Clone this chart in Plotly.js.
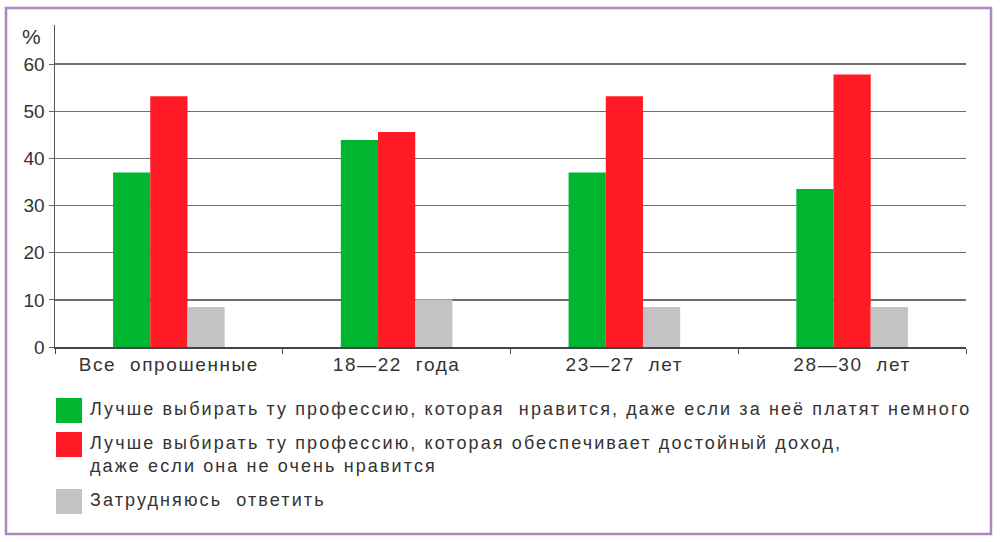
<!DOCTYPE html>
<html>
<head>
<meta charset="utf-8">
<script src="https://cdn.plot.ly/plotly-3.0.1.min.js"></script>
<style>
  html, body { margin: 0; padding: 0; background: #fff; }
  #chart { width: 1000px; height: 542px; }
  /* the source print has airy letter spacing */
  #chart .xtick text { letter-spacing: 1.6px; }
  #chart .annotation-text { letter-spacing: 2.1px; }
</style>
</head>
<body>
<div id="chart"></div>
<script>
var categories = ['Все  опрошенные', '18—22  года', '23—27  лет', '28—30  лет'];

var seriesNames = [
  'Лучше выбирать ту профессию, которая  нравится, даже если за неё платят немного',
  'Лучше выбирать ту профессию, которая обеспечивает достойный доход,<br>даже если она не очень нравится',
  'Затрудняюсь  ответить'
];
var seriesColors = ['#00b530', '#ff1a26', '#c3c3c3'];

var likeValues = [37, 43.9, 37, 33.5];
var incomeValues = [53.2, 45.6, 53.2, 57.8];
var unsureValues = [8.5, 10.1, 8.5, 8.5];

var yTicks = [0, 10, 20, 30, 40, 50, 60];

var allValues = [likeValues, incomeValues, unsureValues];

var data = allValues.map(function (vals, i) {
  return {
    type: 'bar',
    x: categories,
    y: vals,
    name: seriesNames[i],
    marker: { color: seriesColors[i], line: { width: 0 } },
    hoverinfo: 'x+y'
  };
});

// plot area in px: x 55..966, y 25..347 -> helpers to go to paper units
function px(x) { return (x - 55) / 911; }
function py(y) { return (347 - y) / 322; }

// legend drawn by hand: big swatches with text on the right
var legendRows = [398, 432, 489];   // swatch tops, px
var shapes = [];
var annotations = [];
seriesNames.forEach(function (name, i) {
  var top = legendRows[i];
  shapes.push({
    type: 'rect', xref: 'paper', yref: 'paper',
    x0: px(56), x1: px(82), y0: py(top + 25), y1: py(top),
    line: { width: 0 }, fillcolor: seriesColors[i]
  });
  annotations.push({
    xref: 'paper', yref: 'paper',
    x: px(88), y: py(top - 1),
    xanchor: 'left', yanchor: 'top',
    align: 'left', showarrow: false,
    text: name,
    font: { family: '"Liberation Sans", Arial, sans-serif', size: 18, color: '#333' }
  });
});

// '%' label over the axis
annotations.push({
  xref: 'paper', yref: 'paper', x: px(44), y: py(36),
  xanchor: 'right', yanchor: 'middle', showarrow: false,
  text: '%', font: { family: '"Liberation Sans", Arial, sans-serif', size: 21, color: '#333' }
});

// purple frame around everything
shapes.push({
  type: 'rect', xref: 'paper', yref: 'paper',
  x0: px(6), x1: px(991), y0: py(534), y1: py(8),
  line: { color: '#ad86c4', width: 2.5 }, fillcolor: 'rgba(0,0,0,0)'
});

var layout = {
  width: 1000,
  height: 542,
  margin: { l: 55, r: 34, t: 25, b: 195 },
  paper_bgcolor: '#fff',
  plot_bgcolor: '#fff',
  barmode: 'group',
  bargap: 0.51,
  bargroupgap: 0,
  showlegend: false,
  font: { family: '"Liberation Sans", Arial, sans-serif', size: 19, color: '#333' },
  xaxis: {
    type: 'category',
    tickson: 'boundaries',
    ticks: 'outside',
    ticklen: 5,
    tickcolor: '#444',
    showline: true,
    linecolor: '#444',
    linewidth: 1.5,
    showgrid: false,
    tickfont: { size: 19, color: '#333' }
  },
  yaxis: {
    range: [0, 68.3],
    tickvals: yTicks,
    ticks: 'outside',
    ticklen: 5,
    tickcolor: '#666',
    showline: true,
    linecolor: '#555',
    linewidth: 1.5,
    showgrid: true,
    gridcolor: '#6e6e6e',
    gridwidth: 1.5,
    zeroline: false,
    fixedrange: true,
    tickfont: { size: 19, color: '#333' }
  },
  shapes: shapes,
  annotations: annotations
};

Plotly.newPlot('chart', data, layout, { displayModeBar: false, staticPlot: true });
</script>
</body>
</html>
